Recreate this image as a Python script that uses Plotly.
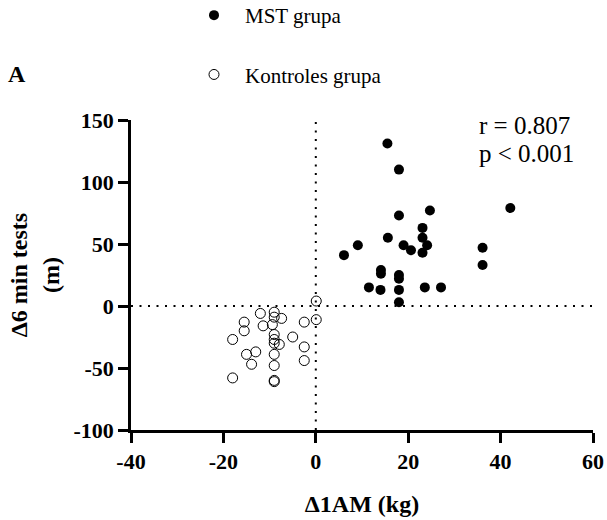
import plotly.graph_objects as go

# MST grupa (filled)
mst_x = [15.5, 18.0, 18.0, 24.7, 42.1, 23.1, 23.1, 15.6, 9.1, 6.1, 19.0, 20.6, 24.1, 23.1,
         36.1, 36.1, 14.1, 14.1, 18.0, 18.0, 11.5, 14.0, 18.0, 23.6, 27.1, 18.0]
mst_y = [131, 110, 73, 77, 79, 63, 55, 55, 49, 41, 49, 45, 49, 43,
         47, 33, 29, 26, 25, 22, 15, 13, 13, 15, 15, 3]

# Kontroles grupa (hollow)
kon_x = [0.1, 0.1, -2.5, -12.0, -9.0, -9.0, -7.4, -15.5, -11.4, -9.4, -15.5, -18.0, -9.0,
         -9.0, -9.0, -7.9, -5.0, -2.5, -2.5, -13.0, -15.0, -13.9, -9.0, -9.0, -18.0, -9.0, -9.0]
kon_y = [4, -11, -13, -6, -5, -9, -10, -13, -16, -15, -20, -27, -23,
         -27, -30, -31, -25, -33, -44, -37, -39, -47, -39, -48, -58, -60, -61]

x_ticks = [-40, -20, 0, 20, 40, 60]
y_ticks = [-100, -50, 0, 50, 100, 150]

SERIF = "Liberation Serif, Times New Roman, serif"

fig = go.Figure()
fig.add_trace(go.Scatter(x=mst_x, y=mst_y, mode="markers", name="MST grupa",
                         legendgroup="a",
                         marker=dict(symbol="circle", size=10, color="black")))
fig.add_trace(go.Scatter(x=kon_x, y=kon_y, mode="markers", name="Kontroles grupa",
                         legendgroup="b",
                         marker=dict(symbol="circle-open", size=10, color="black",
                                     line=dict(width=1, color="black"))))

# reference dotted lines at 0
fig.add_shape(type="line", xref="x", yref="paper", x0=0, x1=0, y0=0, y1=1,
              line=dict(color="black", width=2, dash="2px,6.5px"), layer="below")
fig.add_shape(type="line", xref="paper", yref="y", x0=0, x1=1, y0=0, y1=0,
              line=dict(color="black", width=2, dash="2px,6.5px"), layer="below")

axis_common = dict(showline=True, linecolor="black", linewidth=2.5, ticks="outside",
                   ticklen=10, tickwidth=2.5, tickcolor="black", showgrid=False,
                   zeroline=False, automargin=False,
                   tickfont=dict(family=SERIF, size=22, color="black", weight="bold"))

fig.update_xaxes(range=[-40, 60], tickvals=x_ticks, ticktext=[str(v) for v in x_ticks],
                 title=dict(text="<b>Δ1AM (kg)</b>", font=dict(family=SERIF, size=24, color="black"),
                            standoff=23),
                 **axis_common)
fig.update_yaxes(range=[-100, 150], tickvals=y_ticks, ticktext=[str(v) for v in y_ticks],
                 title=dict(text="<b>Δ6 min tests<br>(m)</b>", font=dict(family=SERIF, size=24, color="black"),
                            standoff=8),
                 **axis_common)

def px_x(p):
    return (p - 131) / 462

def px_y(p):
    return 1 - (p - 120) / 310

fig.add_annotation(text="r = 0.807", xref="paper", yref="paper",
                   x=px_x(477), y=px_y(125), xanchor="left", yanchor="middle",
                   showarrow=False, font=dict(family=SERIF, size=25, color="black"))
fig.add_annotation(text="p < 0.001", xref="paper", yref="paper",
                   x=px_x(477), y=px_y(153), xanchor="left", yanchor="middle",
                   showarrow=False, font=dict(family=SERIF, size=25, color="black"))
fig.add_annotation(text="<b>A</b>", xref="paper", yref="paper",
                   x=px_x(6), y=px_y(74), xanchor="left", yanchor="middle",
                   showarrow=False, font=dict(family=SERIF, size=24, color="black"))

fig.update_layout(
    width=607, height=520,
    margin=dict(l=131, r=14, t=120, b=90, autoexpand=False),
    paper_bgcolor="white", plot_bgcolor="white",
    showlegend=True,
    legend=dict(x=px_x(183), y=px_y(-5), xanchor="left", yanchor="top",
                itemwidth=52,
                tracegroupgap=29, font=dict(family=SERIF, size=21, color="black"),
                bgcolor="rgba(0,0,0,0)"),
)

fig.write_html("out.html")
